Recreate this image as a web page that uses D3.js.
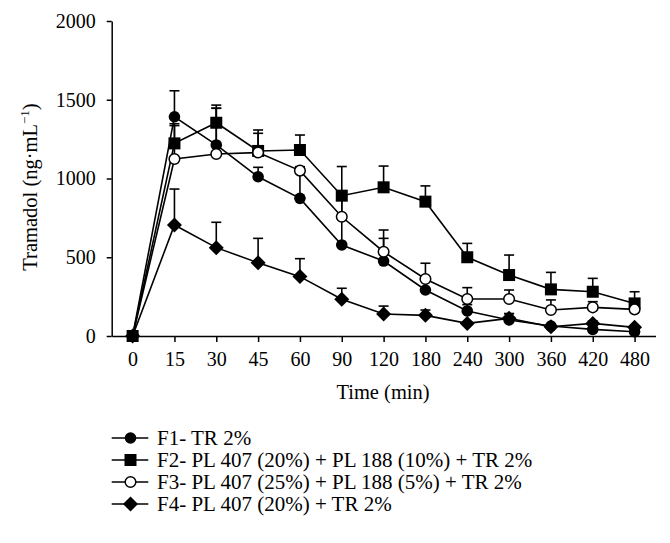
<!DOCTYPE html>
<html>
<head>
<meta charset="utf-8">
<script src="https://cdn.jsdelivr.net/npm/d3@7"></script>
<style>
  body { margin: 0; background: #fff; }
  svg { display: block; }
  svg text { font-family: "Times New Roman", "Liberation Serif", Times, "DejaVu Serif", serif; fill: #000; }
  .axis path, .axis line { stroke: #000; stroke-width: 1.5; fill: none; }
  .axis text { font-size: 20px; }
</style>
</head>
<body>
<svg id="chart" width="670" height="543"></svg>
<script>
const times = ["0", "15", "30", "45", "60", "90", "120", "180", "240", "300", "360", "420", "480"];

const f1 = [0, 1392, 1213, 1011, 874, 578, 476, 292, 159, 102, 63, 42, 27];
const f1Err = [0, 165, 233, 60, 200, 290, 144, 60, 40, 40, 10, 10, 10];

const f2 = [0, 1223, 1354, 1175, 1181, 891, 944, 853, 500, 387, 296, 281, 207];
const f2Err = [0, 125, 112, 133, 95, 185, 135, 100, 88, 127, 108, 85, 74];

const f3 = [0, 1124, 1156, 1165, 1050, 757, 535, 362, 235, 235, 165, 182, 169];
const f3Err = [0, 212, 290, 122, 25, 130, 138, 100, 72, 57, 64, 36, 20];

const f4 = [0, 705, 561, 465, 377, 233, 140, 131, 80, 112, 59, 80, 55];
const f4Err = [0, 228, 161, 155, 114, 70, 50, 34, 10, 30, 10, 15, 10];

const yTicks = [0, 500, 1000, 1500, 2000];

const seriesNames = [
  "F1- TR 2%",
  "F2- PL 407 (20%) + PL 188 (10%) + TR 2%",
  "F3- PL 407 (25%) + PL 188 (5%) + TR 2%",
  "F4- PL 407 (20%) + TR 2%"
];
const seriesSymbols = ["circle", "square", "open", "diamond"];

const series = [
  { name: seriesNames[0], values: f1, err: f1Err, sym: seriesSymbols[0] },
  { name: seriesNames[1], values: f2, err: f2Err, sym: seriesSymbols[1] },
  { name: seriesNames[2], values: f3, err: f3Err, sym: seriesSymbols[2] },
  { name: seriesNames[3], values: f4, err: f4Err, sym: seriesSymbols[3] }
];

const serif = '"Times New Roman", "Liberation Serif", Times, "DejaVu Serif", serif';
const svg = d3.select("#chart").attr("font-family", serif);

const x = d3.scalePoint()
  .domain(times)
  .range([111.7, 655.5])
  .padding(0.5);

const y = d3.scaleLinear()
  .domain([0, 2000])
  .range([336, 21]);

// axes
svg.append("g")
  .attr("class", "axis")
  .attr("transform", "translate(111.7,0)")
  .call(d3.axisLeft(y).tickValues(yTicks).tickSize(5).tickSizeOuter(0).tickPadding(11).tickFormat(d3.format("d")))
  .attr("font-family", serif);

svg.append("g")
  .attr("class", "axis")
  .attr("transform", "translate(0,336)")
  .call(d3.axisBottom(x).tickSize(6).tickSizeOuter(0).tickPadding(10))
  .attr("font-family", serif);

// axis titles
svg.append("text")
  .attr("x", 383)
  .attr("y", 399)
  .attr("text-anchor", "middle")
  .style("font-size", "20.5px")
  .text("Time (min)");

const yTitle = svg.append("text")
  .attr("transform", "translate(37,187) rotate(-90)")
  .attr("text-anchor", "middle")
  .style("font-size", "20.5px");
yTitle.append("tspan").text("Tramadol (ng\u00B7mL");
yTitle.append("tspan").attr("dy", -8).style("font-size", "13px").text("\u22121");
yTitle.append("tspan").attr("dy", 8).text(")");

function drawMarker(g, sym, cx, cy) {
  if (sym === "circle") {
    g.append("circle").attr("cx", cx).attr("cy", cy).attr("r", 5.8).attr("fill", "#000");
  } else if (sym === "open") {
    g.append("circle").attr("cx", cx).attr("cy", cy).attr("r", 5.3)
      .attr("fill", "#fff").attr("stroke", "#000").attr("stroke-width", 1.5);
  } else if (sym === "square") {
    g.append("rect").attr("x", cx - 6).attr("y", cy - 6).attr("width", 12).attr("height", 12).attr("fill", "#000");
  } else if (sym === "diamond") {
    g.append("path")
      .attr("d", `M${cx},${cy - 7.5}L${cx + 7.5},${cy}L${cx},${cy + 7.5}L${cx - 7.5},${cy}Z`)
      .attr("fill", "#000");
  }
}

const line = d3.line()
  .x((d, i) => x(times[i]))
  .y(d => y(d));

// error bars (upward only)
series.forEach(s => {
  const g = svg.append("g");
  s.values.forEach((v, i) => {
    if (!s.err[i]) return;
    const cx = x(times[i]);
    g.append("line").attr("x1", cx).attr("x2", cx)
      .attr("y1", y(v)).attr("y2", y(v + s.err[i]))
      .attr("stroke", "#000").attr("stroke-width", 1.6);
    g.append("line").attr("x1", cx - 5).attr("x2", cx + 5)
      .attr("y1", y(v + s.err[i])).attr("y2", y(v + s.err[i]))
      .attr("stroke", "#000").attr("stroke-width", 1.6);
  });
});

// lines
series.forEach(s => {
  svg.append("path")
    .datum(s.values)
    .attr("d", line)
    .attr("fill", "none")
    .attr("stroke", "#000")
    .attr("stroke-width", 1.6);
});

// markers
series.forEach(s => {
  const g = svg.append("g");
  s.values.forEach((v, i) => drawMarker(g, s.sym, x(times[i]), y(v)));
});

// legend
const legendY = [438, 460, 482, 504];
series.forEach((s, i) => {
  const g = svg.append("g").attr("transform", "translate(0," + legendY[i] + ")");
  g.append("line").attr("x1", 111.7).attr("x2", 148.3).attr("y1", 0).attr("y2", 0)
    .attr("stroke", "#000").attr("stroke-width", 1.6);
  drawMarker(g, s.sym, 130.5, 0);
  g.append("text")
    .attr("x", 157)
    .attr("y", 0)
    .attr("dy", "0.35em")
    .style("font-size", "21px")
    .text(s.name);
});
</script>
</body>
</html>
